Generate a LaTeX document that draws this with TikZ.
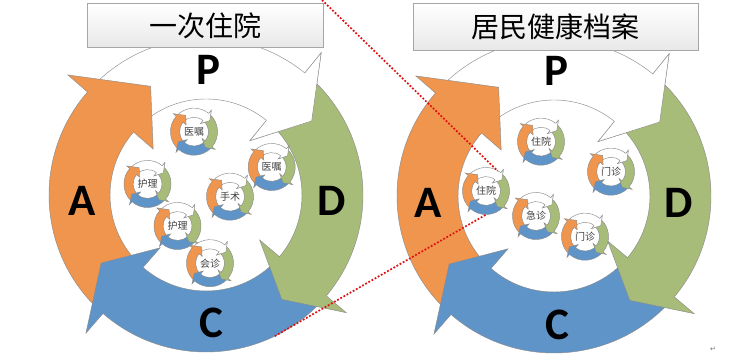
\documentclass[tikz,border=0pt]{standalone}
\usepackage{fontspec}
\usepackage{tikz}
\usepackage{xcolor}
\usetikzlibrary{calc}
\setmainfont{Carlito}
\newfontfamily\cjkfont{Noto Sans CJK SC}
\newfontfamily\symfont{DejaVu Sans}
\definecolor{CycOrange}{HTML}{F0954E}
\definecolor{CycGreen}{HTML}{A7BC78}
\definecolor{CycBlue}{HTML}{5F94C8}
\definecolor{CycLine}{HTML}{8C8C8C}
\definecolor{ZoomRed}{HTML}{E01010}

% one curved arrow: fill, tail angle, base angle, tip angle, tip radius
\newcommand{\pdcaarrow}[5]{%
  \filldraw[cyclearrow, fill=#1] (#2:96) arc[start angle=#2, end angle=#3, radius=96]
    -- (#3:70) -- (#4:#5) -- (#3:183) -- (#3:157)
    arc[start angle=#3, end angle=#2, radius=157] -- cycle;}
\newcommand{\pdcacycle}{%
  \pdcaarrow{white}{137}{51}{35}{129}
  \pdcaarrow{CycOrange}{227}{139}{117}{122}
  \pdcaarrow{CycBlue}{317}{229}{213}{125}
  \pdcaarrow{CycGreen}{49}{-40}{-54}{129}
  % head of P once more, over the tail of D
  \fill[white] (51:96) -- (51:70) -- (35:129) -- (51:183) -- (51:157) -- cycle;
  \draw[cyclearrow] (51:96) -- (51:70) -- (35:129) -- (51:183) -- (51:157);}
\newcommand{\minicycle}[3]{%
  \begin{scope}[shift={#2}, scale=0.15]
    \pdcacycle
  \end{scope}
  \node[minilabel] (#1) at #2 {#3};}

\begin{document}
\begin{tikzpicture}[x=1pt, y=1pt,
    cyclearrow/.style={draw=CycLine, line width=0.45pt, line join=miter},
    letter/.style={font=\bfseries\fontsize{45}{45}\selectfont, inner sep=0pt},
    minilabel/.style={circle, minimum size=46pt, inner sep=0pt,
                      font=\cjkfont\fontsize{10}{10}\selectfont, text=black!75},
    titlebox/.style={draw=black!35, line width=0.8pt, top color=white,
                     bottom color=black!9, font=\cjkfont\fontsize{28}{28}\selectfont,
                     inner sep=0pt},
    zoomline/.style={draw=ZoomRed, line width=1.7pt, dash pattern=on 1.8pt off 1.8pt}
]
\fill[white] (0,0) rectangle (747,355);
\useasboundingbox (0,0) rectangle (747,355);

% left cycle
\begin{scope}[shift={(206,160)}]
  \pdcacycle
  \node[letter] (plan1) at (2,125) {P};
  \node[letter] (do1) at (126,-6) {D};
  \node[letter] (check1) at (5,-128) {C};
  \node[letter] (act1) at (-124,-6) {A};
\end{scope}
\minicycle{order1}{(194,223.3)}{医嘱}
\minicycle{order2}{(271.7,188)}{医嘱}
\minicycle{nurse1}{(147.5,171)}{护理}
\minicycle{surgery}{(230,158.3)}{手术}
\minicycle{nurse2}{(177.5,129)}{护理}
\minicycle{consult}{(210,91.8)}{会诊}

% right cycle
\begin{scope}[shift={(554,159)}]
  \pdcacycle
  \node[letter] (plan2) at (2,125) {P};
  \node[letter] (do2) at (125,-7) {D};
  \node[letter] (check2) at (3,-129) {C};
  \node[letter] (act2) at (-126,-7) {A};
\end{scope}
\minicycle{ward1}{(541,213.3)}{住院}
\minicycle{clinic1}{(611,183.3)}{门诊}
\minicycle{ward2}{(486,164)}{住院}
\minicycle{emergency}{(536,139)}{急诊}
\minicycle{clinic2}{(585,118.3)}{门诊}

\node[titlebox, minimum width=236pt, minimum height=44pt] (inpatient) at (205,329.5) {一次住院};
\node[titlebox, minimum width=285pt, minimum height=47pt] (healthrec) at (555.5,328) {居民健康档案};

\coordinate (zoomtop) at (322,355);
\coordinate (zoombot) at ($(206,160)+(-64:157)$);
\draw[zoomline] (zoomtop) -- (ward2.60);
\draw[zoomline] (zoombot) -- (ward2.-88);

\node[font=\symfont\fontsize{7}{7}\selectfont, text=black!55] (retmark) at (713,6) {↵};
\end{tikzpicture}
\end{document}
